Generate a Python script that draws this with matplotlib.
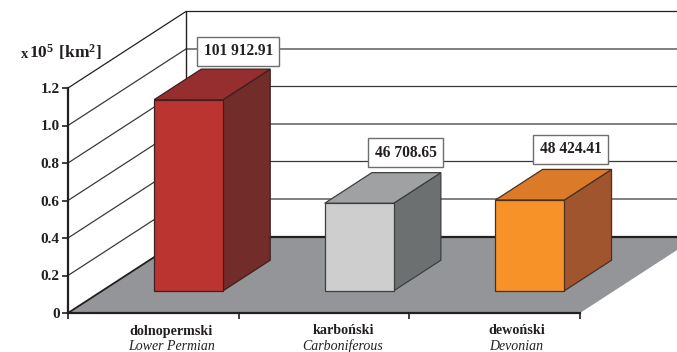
import matplotlib.pyplot as plt
from matplotlib.patches import Polygon

plt.rcParams['font.family'] = 'Liberation Serif'
plt.rcParams['mathtext.fontset'] = 'custom'
plt.rcParams['mathtext.bf'] = 'Liberation Serif:bold'
plt.rcParams['mathtext.rm'] = 'Liberation Serif'

names_pl = ['dolnopermski', 'karbo\u0144ski', 'dewo\u0144ski']
names_en = ['Lower Permian', 'Carboniferous', 'Devonian']
areas_km2 = [101912.91, 46708.65, 48424.41]
area_labels = ['101 912.91', '46 708.65', '48 424.41']
y_ticks = [0, 0.2, 0.4, 0.6, 0.8, 1.0, 1.2]
y_tick_labels = ['0', '0.2', '0.4', '0.6', '0.8', '1.0', '1.2']

front_colors = ['#bc3430', '#cecece', '#f79228']
top_colors = ['#962d2f', '#a0a1a3', '#db7b2a']
side_colors = ['#722c2a', '#6d7071', '#a0552e']
edge_colors = ['#3d2020', '#3c3f40', '#4a3020']
label_offsets = [(-32, 18), (-35, 20), (-41, 20)]
name_shift = [18, 19, 22]

# oblique projection: how far the full chart depth shifts a point
DEPTH_X = 0.691
DEPTH_Y = 0.408
BAR_WIDTH = 0.404
BAR_NEAR = 0.29
BAR_FAR = 0.69
BAR_CENTER = 0.506


def proj(x, y, d=0.0):
    return (x + DEPTH_X * d, y + DEPTH_Y * d)


fig = plt.figure(figsize=(6.77, 3.52), dpi=100)
ax = fig.add_axes([68 / 677, 1 - 313 / 352, 512 / 677, 225 / 352])
ax.set_xlim(0, 3)
ax.set_ylim(0, 1.2)
ax.patch.set_alpha(0)

# floor
floor = [proj(0, 0), proj(3, 0), proj(3, 0, 1), proj(0, 0, 1)]
ax.add_patch(Polygon(floor, closed=True, fc='#939598', ec='none', zorder=1, clip_on=False))
ax.plot(*zip(proj(0, 0), proj(0, 0, 1)), color='#231f20', lw=1.3, zorder=2, clip_on=False)
ax.plot(*zip(proj(0, 0, 1), proj(3, 0, 1)), color='#231f20', lw=1.6, zorder=2, clip_on=False)

# gridlines run up the side wall, then across the back wall
for v in y_ticks[1:]:
    col = '#231f20' if v == 1.2 else '#3a3a3a'
    pts = [proj(0, v), proj(0, v, 1), proj(3, v, 1)]
    ax.plot(*zip(*pts), color=col, lw=0.9, zorder=1.5, clip_on=False)
ax.plot(*zip(proj(0, 0, 1), proj(0, 1.2, 1)), color='#231f20', lw=1.0, zorder=1.5, clip_on=False)

# bars
for i, km2 in enumerate(areas_km2):
    h = km2 / 1e5
    x0 = i + BAR_CENTER - BAR_WIDTH / 2
    x1 = x0 + BAR_WIDTH
    front = [proj(x0, 0, BAR_NEAR), proj(x1, 0, BAR_NEAR), proj(x1, h, BAR_NEAR), proj(x0, h, BAR_NEAR)]
    top = [proj(x0, h, BAR_NEAR), proj(x1, h, BAR_NEAR), proj(x1, h, BAR_FAR), proj(x0, h, BAR_FAR)]
    side = [proj(x1, 0, BAR_NEAR), proj(x1, 0, BAR_FAR), proj(x1, h, BAR_FAR), proj(x1, h, BAR_NEAR)]
    for pts, c in ((side, side_colors[i]), (top, top_colors[i]), (front, front_colors[i])):
        ax.add_patch(Polygon(pts, closed=True, fc=c, ec=edge_colors[i], lw=0.9, zorder=3, clip_on=False))

    ax.annotate(area_labels[i], xy=proj(x1, h, BAR_FAR), xytext=label_offsets[i],
                textcoords='offset pixels', ha='center', va='center',
                fontsize=11.2, fontweight='bold', color='#231f20', zorder=5,
                annotation_clip=False,
                bbox=dict(boxstyle='square,pad=0.42', fc='white', ec='#6d6e71', lw=1.0))

# axes
for s in ('top', 'right'):
    ax.spines[s].set_visible(False)
for s in ('left', 'bottom'):
    ax.spines[s].set_linewidth(1.6)
    ax.spines[s].set_color('#231f20')
    ax.spines[s].set_zorder(4)
ax.set_yticks(y_ticks)
ax.set_yticklabels(y_tick_labels, fontsize=11, fontweight='bold', color='#231f20')
ax.set_xticks([0, 1, 2, 3])
ax.set_xticklabels([])
ax.tick_params(axis='y', length=4, width=1.2, color='#231f20', pad=2, direction='out')
ax.tick_params(axis='x', length=4, width=1.2, color='#231f20', direction='out')

for i in range(3):
    ax.annotate(names_pl[i], xy=(i + 0.5, 0), xytext=(name_shift[i], -18), textcoords='offset pixels',
                ha='center', va='center', fontsize=10.2, fontweight='bold', color='#231f20',
                annotation_clip=False)
    ax.annotate(names_en[i], xy=(i + 0.5, 0), xytext=(name_shift[i], -33), textcoords='offset pixels',
                ha='center', va='center', fontsize=10, fontstyle='italic', color='#231f20',
                annotation_clip=False)

# unit label
fig.text(21 / 677, 1 - 58 / 352, 'x', fontsize=10.5, fontweight='bold', color='#231f20', va='baseline')
fig.text(29 / 677, 1 - 58 / 352, r'$\mathbf{10^{5}\ [km^{2}]}$', fontsize=12.5, color='#231f20', va='baseline')

fig.savefig('out.png', dpi=100)
